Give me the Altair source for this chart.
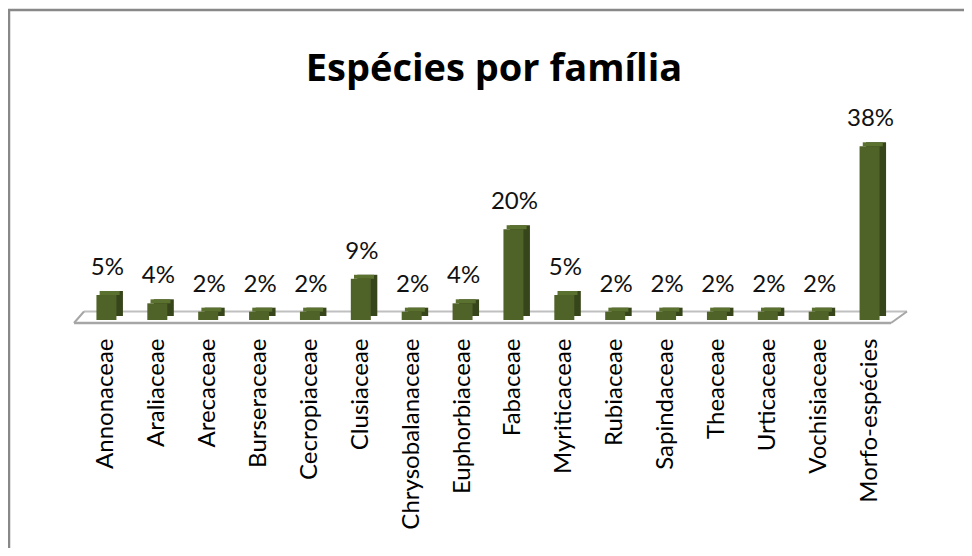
import altair as alt
import pandas as pd

familias = ["Annonaceae", "Araliaceae", "Arecaceae", "Burseraceae", "Cecropiaceae",
            "Clusiaceae", "Chrysobalanaceae", "Euphorbiaceae", "Fabaceae", "Myriticaceae",
            "Rubiaceae", "Sapindaceae", "Theaceae", "Urticaceae", "Vochisiaceae",
            "Morfo-espécies"]
percentuais = [5.4, 3.6, 1.8, 1.8, 1.8, 8.9, 1.8, 3.6, 19.6, 5.4, 1.8, 1.8, 1.8, 1.8, 1.8, 37.5]

df = pd.DataFrame({"familia": familias, "pct": percentuais})
df["rotulo"] = [f"{round(v + 1e-9):d}%" for v in percentuais]

FRONT = "#4F6228"
SIDE = "#37451B"
TOP = "#5B712F"

x_enc = alt.X("familia:N", sort=familias,
              scale=alt.Scale(paddingInner=0, paddingOuter=0),
              axis=alt.Axis(title=None, labelAngle=-90, labelFont="Lato", labelFontSize=24,
                            labelColor="#000000", domain=False, ticks=False, tickSize=0,
                            labelPadding=18, labelLimit=400, grid=False))
y_scale = alt.Scale(domain=[0, 47.5], nice=False, zero=True)
y_enc = alt.Y("pct:Q", scale=y_scale, axis=None)

base = alt.Chart(df)
one = pd.DataFrame({"k": [0]})

# outer frame
frame = alt.Chart(one).mark_rect(
    fill="transparent", stroke="#888888", strokeWidth=2.5
).encode(x=alt.value(-72), x2=alt.value(2000), y=alt.value(-90), y2=alt.value(2000))

# floor (decorative parallelogram)
floor_col = "#A6A6A6"
floor_front = alt.Chart(one).mark_rule(color=floor_col, strokeWidth=2.5).encode(
    x=alt.value(-7), x2=alt.value(810), y=alt.value(223), y2=alt.value(223))
floor_back = alt.Chart(one).mark_rule(color="#C0C0C0", strokeWidth=2).encode(
    x=alt.value(3), x2=alt.value(826), y=alt.value(211.5), y2=alt.value(211.5))
floor_left = alt.Chart(one).mark_rule(color=floor_col, strokeWidth=2).encode(
    x=alt.value(-7), x2=alt.value(3), y=alt.value(223), y2=alt.value(211.5))
floor_right = alt.Chart(one).mark_rule(color=floor_col, strokeWidth=2).encode(
    x=alt.value(810), x2=alt.value(826), y=alt.value(223), y2=alt.value(211.5))

side = base.mark_bar(size=20, color=SIDE, xOffset=6.5, yOffset=-4, y2Offset=-4).encode(
    x=x_enc, y=y_enc, y2=alt.datum(0))
top = base.mark_bar(size=20, color=TOP, xOffset=3.2, yOffset=-4, y2Offset=0).encode(
    x=x_enc, y=y_enc, y2="pct:Q")
front = base.mark_bar(size=20, color=FRONT).encode(
    x=x_enc, y=y_enc, y2=alt.datum(0))
labels = base.mark_text(font="Lato", fontSize=24, color="#111111", baseline="alphabetic",
                        align="center", dy=-20, dx=1).encode(
    x=x_enc, y=y_enc, text="rotulo:N")

chart = alt.layer(frame, floor_back, floor_left, floor_right, floor_front,
                  side, top, front, labels).properties(
    width=814, height=220,
    title=alt.TitleParams("Espécies por família", font="Open Sans", fontSize=38, fontWeight="bold",
                          color="#000000", anchor="middle", baseline="alphabetic",
                          offset=-110.25, dx=6, frame="group"),
    autosize=alt.AutoSizeParams(type="none"),
    padding={"left": 73, "top": 92, "right": 69, "bottom": 228},
).configure_view(strokeWidth=0)

chart.save("out.html", embed_options={"renderer": "svg", "actions": False})
